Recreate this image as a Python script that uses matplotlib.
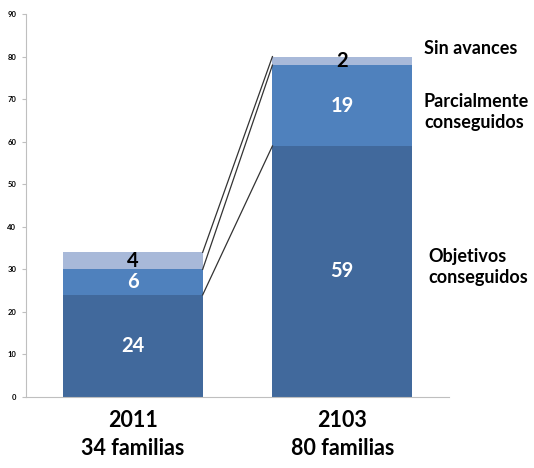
import matplotlib
matplotlib.use("Agg")
import matplotlib.pyplot as plt

years = ["2011\n34 familias", "2103\n80 familias"]
conseguidos = [24, 59]
parcial = [6, 19]
sin_avances = [4, 2]

c_dark = "#41699C"
c_mid = "#4F81BD"
c_light = "#A8B9D9"

plt.rcParams["font.family"] = ["Lato", "DejaVu Sans"]

fig = plt.figure(figsize=(5.34, 4.68), dpi=100)
ax = fig.add_axes([0.0487, 0.1517, 0.7923, 0.8183])

x = [0, 1]
w = 0.667
bottom2 = [a + b for a, b in zip(conseguidos, parcial)]
ax.bar(x, conseguidos, w, color=c_dark)
ax.bar(x, parcial, w, bottom=conseguidos, color=c_mid)
ax.bar(x, sin_avances, w, bottom=bottom2, color=c_light)

# series lines between the two bars
tops = []
for i in range(2):
    tops.append([conseguidos[i], bottom2[i], bottom2[i] + sin_avances[i]])
for k in range(3):
    ax.plot([w / 2, 1 - w / 2], [tops[0][k], tops[1][k]], color="#333333", lw=0.9)

for i in range(2):
    ax.text(x[i], conseguidos[i] / 2, str(conseguidos[i]), ha="center", va="center",
            color="white", fontsize=14.5, fontweight="bold")
    ax.text(x[i], conseguidos[i] + parcial[i] / 2, str(parcial[i]), ha="center", va="center",
            color="white", fontsize=14.5, fontweight="bold")
    ax.text(x[i], bottom2[i] + sin_avances[i] / 2, str(sin_avances[i]), ha="center", va="center",
            color="black", fontsize=14.5, fontweight="bold")

lab_kw = dict(ha="left", va="center", fontsize=13, fontweight="bold", linespacing=1.25)
ax.text(1.39, 82, "Sin avances", **lab_kw)
ax.text(1.39, 67, "Parcialmente\nconseguidos", **lab_kw)
ax.text(1.41, 30.5, "Objetivos\nconseguidos", **lab_kw)

ax.set_xlim(-0.51, 1.51)
ax.set_ylim(0, 90)
ax.set_yticks(range(0, 91, 10))
ax.set_xticks(x)
ax.set_xticklabels(years, fontsize=15.5, fontweight="bold", linespacing=1.45)
ax.tick_params(axis="x", length=0, pad=9)
ax.tick_params(axis="y", labelsize=5.5, length=3, color="#BFBFBF", pad=4)
for lab in ax.get_yticklabels():
    lab.set_fontweight("bold")
for s in ["top", "right"]:
    ax.spines[s].set_visible(False)
for s in ["left", "bottom"]:
    ax.spines[s].set_color("#BFBFBF")

fig.savefig("out.png", dpi=100)
